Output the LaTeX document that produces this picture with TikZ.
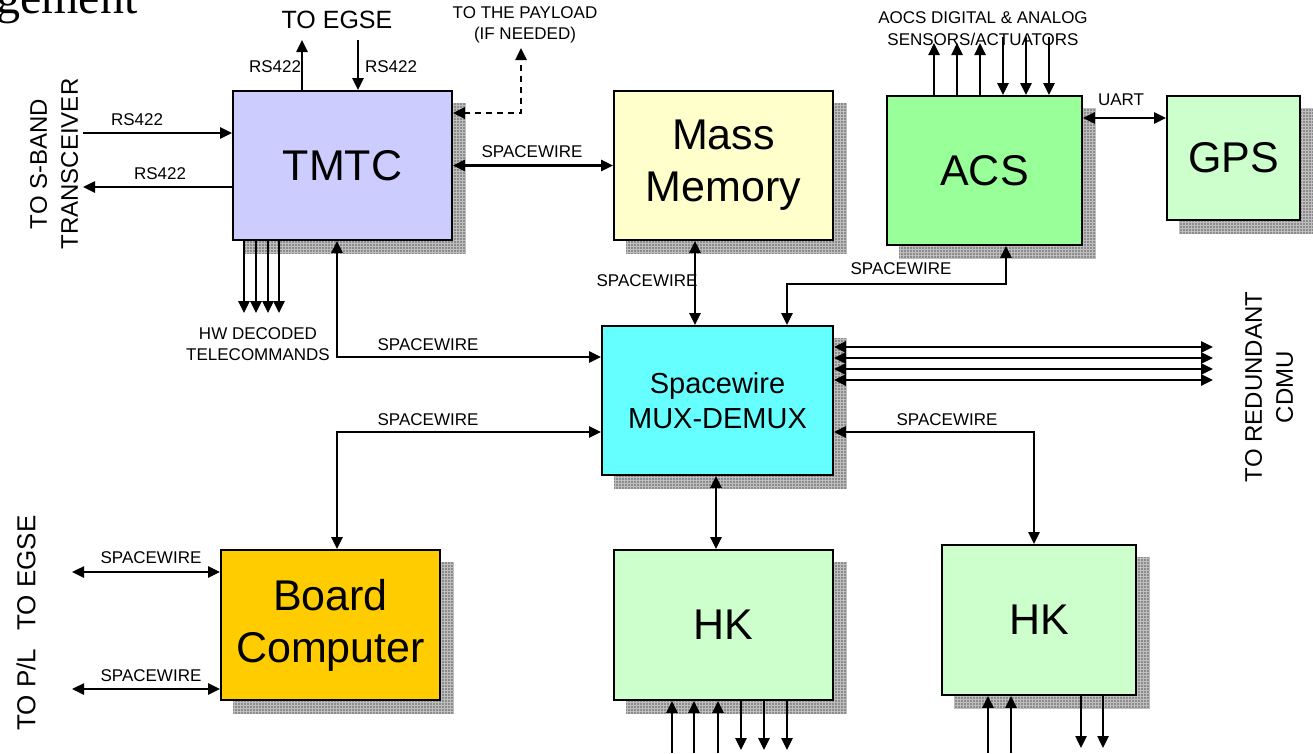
\documentclass[tikz,border=0pt]{standalone}
\usepackage{fontspec}
\setmainfont{Liberation Sans}
\newfontfamily\serifface{Liberation Serif}
\usetikzlibrary{arrows.meta,patterns,backgrounds}
\definecolor{tmtcc}{RGB}{204,204,255}
\definecolor{mmc}{RGB}{255,255,204}
\definecolor{acsc}{RGB}{153,255,153}
\definecolor{gpsc}{RGB}{204,255,204}
\definecolor{muxc}{RGB}{102,255,255}
\definecolor{bcc}{RGB}{255,204,0}
\definecolor{shadc}{RGB}{140,140,140}
\definecolor{shadl}{RGB}{190,190,190}
\tikzset{
 blk/.style={draw=black, line width=1.8pt, inner sep=0pt, align=center, font=\fontsize{43}{52}\selectfont},
 lbl/.style={font=\fontsize{17}{21}\selectfont, inner sep=0pt, align=center},
 big/.style={font=\fontsize{24}{31}\selectfont, inner sep=0pt, align=center},
 wire/.style={line width=2.5pt},
 arr/.style={wire, -{Triangle[length=12pt,width=11pt]}},
 barr/.style={wire, {Triangle[length=12pt,width=11pt]}-{Triangle[length=12pt,width=11pt]}},
 shad/.style={fill=shadc, postaction={pattern=grid, pattern color=shadl}},
}
\begin{document}
\begin{tikzpicture}[x=1pt,y=-1pt]
\useasboundingbox (0,0) rectangle (1313,753);
\node[anchor=base west, inner sep=0pt, font=\serifface\fontsize{48}{48}\selectfont] (title) at (-4,13) {gement};

% blocks
\node[blk, fill=tmtcc, minimum width=219pt, minimum height=149pt] (TMTC) at (342.5,165.5) {TMTC};
\node[blk, fill=mmc, minimum width=219pt, minimum height=149pt] (MM) at (723.5,165.5) {Mass\\Memory};
\node[blk, fill=acsc, minimum width=195pt, minimum height=149pt] (ACS) at (984.5,170.5) {ACS};
\node[blk, fill=gpsc, minimum width=133pt, minimum height=124pt] (GPS) at (1233.5,158) {GPS};
\node[blk, fill=muxc, minimum width=231pt, minimum height=149pt, font=\fontsize{29}{35}\selectfont] (MUX) at (717.5,400.5) {Spacewire\\MUX-DEMUX};
\node[blk, fill=bcc, minimum width=219pt, minimum height=150pt] (BC) at (330.5,625) {Board\\Computer};
\node[blk, fill=gpsc, minimum width=219pt, minimum height=150pt] (HK1) at (723.5,625) {HK};
\node[blk, fill=gpsc, minimum width=194pt, minimum height=150pt] (HK2) at (1039,620) {HK};

\begin{scope}[on background layer]
\foreach \n in {TMTC,MM,ACS,GPS,MUX,BC,HK1,HK2} {
  \fill[shad] ([shift={(13,13)}]\n.north west) rectangle ([shift={(13,13)}]\n.south east);
}
\end{scope}

% TO EGSE
\coordinate (egA) at (302,40);
\coordinate (egB) at (358,40);
\draw[arr] (TMTC.north -| egA) -- (egA);
\draw[arr] (egB) -- (TMTC.north -| egB);
\node[big, font=\fontsize{25}{30}\selectfont] (egse) at (337,20) {TO EGSE};
\node[lbl] (rs1) at (275,67) {RS422};
\node[lbl] (rs2) at (391,67) {RS422};

% payload
\node[lbl] (payload) at (525,25) {TO THE PAYLOAD\\(IF NEEDED)};
\coordinate (pay) at (521,48);
\coordinate (payY) at (521,113);
\draw[barr, dash pattern=on 6pt off 5pt] (TMTC.east |- payY) -- (payY) -- (pay);

% S-band
\coordinate (sb1) at (83,133);
\coordinate (sb2) at (83,187);
\draw[arr] (sb1) -- (sb1 -| TMTC.west);
\draw[arr] (sb2 -| TMTC.west) -- (sb2);
\node[lbl] (rs3) at (137,120) {RS422};
\node[lbl] (rs4) at (160,174) {RS422};
\node[big, rotate=90] (sband) at (54,164) {TO S-BAND\\TRANSCEIVER};

% HW decoded telecommands
\foreach \x in {244,256,268,279} {
  \coordinate (hw\x) at (\x,313);
  \draw[arr] (TMTC.south -| hw\x) -- (hw\x);
}
\node[lbl] (hwdec) at (258,344) {HW DECODED\\TELECOMMANDS};

% TMTC - MUX
\coordinate (tm) at (337,357);
\draw[barr] (TMTC.south -| tm) -- (tm) -- (MUX.west |- tm);
\node[lbl] (sw1) at (428,345) {SPACEWIRE};

% TMTC - MM
\draw[barr] (TMTC.east) -- (MM.west);
\node[lbl] (sw2) at (532,152) {SPACEWIRE};

% MM - MUX
\coordinate (mmx) at (695,283);
\draw[barr] (MM.south -| mmx) -- (MUX.north -| mmx);
\node[lbl] (sw3) at (647,281) {SPACEWIRE};

% ACS - MUX
\coordinate (acx) at (1006,284);
\coordinate (mxx) at (787,284);
\draw[barr] (ACS.south -| acx) -- (acx) -- (mxx) -- (MUX.north -| mxx);
\node[lbl] (sw4) at (901,269) {SPACEWIRE};

% UART
\coordinate (ua) at (1120,118);
\draw[barr] (ACS.east |- ua) -- (GPS.west |- ua);
\node[lbl] (uart) at (1121,100) {UART};

% AOCS
\foreach \x in {934,957,980} {
  \coordinate (ao\x) at (\x,43);
  \draw[arr] (ACS.north -| ao\x) -- (ao\x);
}
\foreach \x in {1003,1026,1049} {
  \coordinate (ai\x) at (\x,37);
  \draw[arr] (ai\x) -- (ACS.north -| ai\x);
}
\node[lbl, font=\fontsize{17}{22}\selectfont] (aocs) at (983,29) {AOCS DIGITAL \& ANALOG\\SENSORS/ACTUATORS};

% redundant CDMU
\foreach \y in {347,358,369,380} {
  \coordinate (rd\y) at (1213,\y);
  \draw[barr] (MUX.east |- rd\y) -- (rd\y);
}
\node[big, rotate=90] (redund) at (1269,387) {TO REDUNDANT\\CDMU};

% BC - MUX
\coordinate (bm) at (337,432);
\draw[barr] (MUX.west |- bm) -- (bm) -- (BC.north -| bm);
\node[lbl] (sw5) at (428,420) {SPACEWIRE};

% MUX - HK2
\coordinate (hm) at (1034,432);
\draw[barr] (MUX.east |- hm) -- (hm) -- (HK2.north -| hm);
\node[lbl] (sw6) at (947,420) {SPACEWIRE};

% MUX - HK1
\coordinate (hk) at (716,510);
\draw[barr] (MUX.south -| hk) -- (HK1.north -| hk);

% BC left
\coordinate (bl1) at (72,572);
\coordinate (bl2) at (72,689);
\draw[barr] (bl1) -- (BC.west |- bl1);
\draw[barr] (bl2) -- (BC.west |- bl2);
\node[lbl] (sw7) at (151,558) {SPACEWIRE};
\node[lbl] (sw8) at (151,676) {SPACEWIRE};
\node[big, font=\fontsize{26}{30}\selectfont, rotate=90] (topl) at (26,623) {TO P/L\hspace{18pt}TO EGSE};

% HK1 bottom
\foreach \x in {672,694,718} {
  \coordinate (hai\x) at (\x,753);
  \draw[arr] (hai\x) -- (HK1.south -| hai\x);
}
\foreach \x in {741,764,787} {
  \coordinate (hao\x) at (\x,750);
  \draw[arr] (HK1.south -| hao\x) -- (hao\x);
}
% HK2 bottom
\foreach \x in {988,1011} {
  \coordinate (hbi\x) at (\x,753);
  \draw[arr] (hbi\x) -- (HK2.south -| hbi\x);
}
\foreach \x in {1081,1103} {
  \coordinate (hbo\x) at (\x,748);
  \draw[arr] (HK2.south -| hbo\x) -- (hbo\x);
}
\end{tikzpicture}
\end{document}
